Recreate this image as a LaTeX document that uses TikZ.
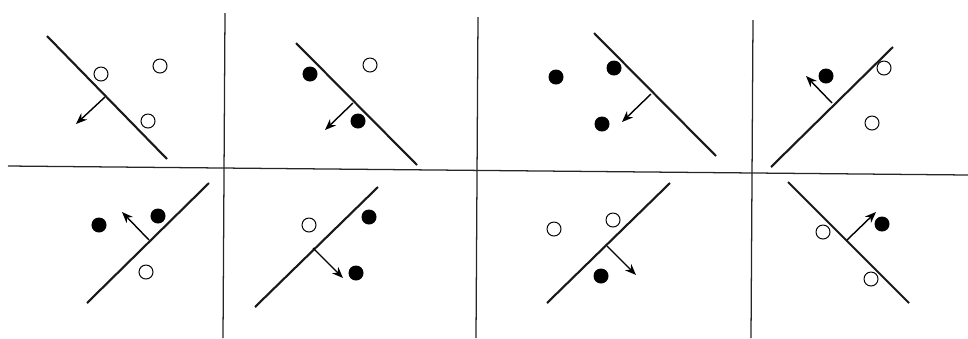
\documentclass[tikz,border=0pt]{standalone}
\usetikzlibrary{arrows.meta}

\begin{document}
\begin{tikzpicture}[
  x=0.025cm, y=-0.025cm,
  >={Stealth[length=2.8mm, width=2.2mm]},
  grid/.style={line width=0.9pt, black!85},
  plane/.style={line width=1.5pt, black!90},
  normal/.style={->, line width=1.0pt},
  opn/.style={circle, draw, line width=0.7pt, fill=white, minimum size=3.5mm, inner sep=0pt},
  fil/.style={opn, fill=black},
]
\useasboundingbox (0,0) rectangle (968,338);

% =================== grid ===================
\coordinate (hl) at (8,166); \coordinate (hr) at (968,175);
\draw[grid] (hl) -- (hr);
\foreach \xt/\yt/\xb [count=\k] in {225/13/223, 478/17/476, 753/20/751} {
  \coordinate (v\k t) at (\xt,\yt); \coordinate (v\k b) at (\xb,338);
  \draw[grid] (v\k t) -- (v\k b);}

% =================== top row ===================
% panel 1
\coordinate (a1) at (47,36); \coordinate (b1) at (167,159);
\coordinate (f1) at (105,97); \coordinate (t1) at (76,124);
\draw[plane] (a1) -- (b1);
\draw[normal] (f1) -- (t1);
\node[opn] (p1a) at (101,74) {};
\node[opn] (p1b) at (160,66) {};
\node[opn] (p1c) at (148,121) {};

% panel 2
\coordinate (a2) at (296,43); \coordinate (b2) at (417,165);
\coordinate (f2) at (353,103); \coordinate (t2) at (325,130);
\draw[plane] (a2) -- (b2);
\draw[normal] (f2) -- (t2);
\node[fil] (p2a) at (310,74) {};
\node[opn] (p2b) at (370,65) {};
\node[fil] (p2c) at (358,121) {};

% panel 3
\coordinate (a3) at (594,33); \coordinate (b3) at (716,156);
\coordinate (f3) at (651,94); \coordinate (t3) at (622,122);
\draw[plane] (a3) -- (b3);
\draw[normal] (f3) -- (t3);
\node[fil] (p3a) at (556,77) {};
\node[fil] (p3b) at (614,68) {};
\node[fil] (p3c) at (602,124) {};

% panel 4
\coordinate (a4) at (771,167); \coordinate (b4) at (893,47);
\coordinate (f4) at (832,103); \coordinate (t4) at (806,76);
\draw[plane] (a4) -- (b4);
\draw[normal] (f4) -- (t4);
\node[fil] (p4a) at (826,76) {};
\node[opn] (p4b) at (884,68) {};
\node[opn] (p4c) at (872,123) {};

% =================== bottom row ===================
% panel 5
\coordinate (a5) at (87,303); \coordinate (b5) at (209,183);
\coordinate (f5) at (149,240); \coordinate (t5) at (122,212);
\draw[plane] (a5) -- (b5);
\draw[normal] (f5) -- (t5);
\node[fil] (p5a) at (99,225) {};
\node[fil] (p5b) at (158,216) {};
\node[opn] (p5c) at (146,272) {};

% panel 6
\coordinate (a6) at (255,307); \coordinate (b6) at (378,187);
\coordinate (f6) at (313,248); \coordinate (t6) at (343,278);
\draw[plane] (a6) -- (b6);
\draw[normal] (f6) -- (t6);
\node[opn] (p6a) at (309,225) {};
\node[fil] (p6b) at (369,217) {};
\node[fil] (p6c) at (356,273) {};

% panel 7
\coordinate (a7) at (547,303); \coordinate (b7) at (670,183);
\coordinate (f7) at (607,246); \coordinate (t7) at (636,275);
\draw[plane] (a7) -- (b7);
\draw[normal] (f7) -- (t7);
\node[opn] (p7a) at (554,229) {};
\node[opn] (p7b) at (613,220) {};
\node[fil] (p7c) at (601,276) {};

% panel 8
\coordinate (a8) at (788,182); \coordinate (b8) at (909,303);
\coordinate (f8) at (847,240); \coordinate (t8) at (876,212);
\draw[plane] (a8) -- (b8);
\draw[normal] (f8) -- (t8);
\node[opn] (p8a) at (823,232) {};
\node[fil] (p8b) at (882,224) {};
\node[opn] (p8c) at (871,279) {};
\end{tikzpicture}
\end{document}
